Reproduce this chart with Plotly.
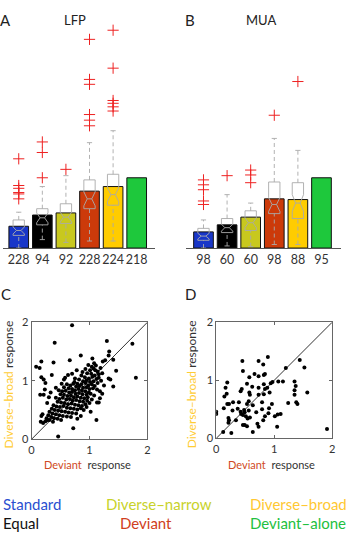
import plotly.graph_objects as go

W, H = 348, 539
def fx(px): return px / W
def fy(py): return 1 - py / H

FONT = "Lato"

# ---------------- data ----------------
categories = ["Standard", "Equal", "Diverse–narrow", "Deviant", "Diverse–broad", "Deviant–alone"]
bar_colors = ["#1836c8", "#000000", "#c8c81e", "#cc3a0a", "#ffcc00", "#1ec83c"]

lfp_mean = [0.31, 0.47, 0.50, 0.81, 0.875, 1.0]
lfp_counts = ["228", "94", "92", "228", "224", "218"]
mua_mean = [0.23, 0.33, 0.44, 0.70, 0.69, 1.0]
mua_counts = ["98", "60", "60", "98", "88", "95"]

# box statistics (first five categories)
lfp_q1 = [0.18, 0.33, 0.35, 0.56, 0.61]
lfp_med = [0.25, 0.43, 0.44, 0.70, 0.76]
lfp_q3 = [0.40, 0.56, 0.63, 0.97, 1.05]
lfp_lo = [0.00, 0.12, 0.08, 0.10, 0.10]
lfp_hi = [0.51, 0.875, 1.03, 1.50, 1.67]
lfp_notch = [0.05, 0.07, 0.07, 0.10, 0.10]
lfp_outliers = [
    [1.27, 0.89, 0.85, 0.79, 0.77, 0.70],
    [1.51, 1.36, 1.00],
    [1.12],
    [2.97, 2.40, 2.33, 1.90, 1.82, 1.74],
    [3.10, 2.56, 2.10, 2.06, 2.01, 1.95],
]

mua_q1 = [0.11, 0.22, 0.25, 0.49, 0.42]
mua_med = [0.17, 0.29, 0.36, 0.62, 0.64]
mua_q3 = [0.28, 0.42, 0.53, 0.94, 0.93]
mua_lo = [0.00, 0.03, 0.02, 0.05, 0.05]
mua_hi = [0.40, 0.76, 0.64, 1.56, 1.39]
mua_notch = [0.04, 0.05, 0.07, 0.10, 0.12]
mua_outliers = [
    [0.97, 0.90, 0.83, 0.67, 0.62],
    [1.03],
    [1.11, 1.04, 0.93],
    [1.89],
    [2.37],
]

# panel C (LFP) : deviant response vs diverse-broad response
c_dev = [0.70, 0.40, 0.17, 0.38, 0.66, 0.08, 0.14, 0.35, 0.17, 0.21, 0.85, 1.30, 1.74, 1.34, 1.33, 1.27, 1.23, 1.41, 1.05, 1.08,
         1.46, 1.33, 1.36, 1.80, 0.46, 0.72, 0.16, 0.17, 0.19, 0.28, 0.21, 0.23, 0.15, 0.24, 0.42, 1.41, 1.18, 1.13, 1.16, 1.02,
         1.12, 0.56, 0.63,
         0.98, 1.04, 1.11, 1.19, 0.93, 1.01, 1.07, 1.14, 0.88, 0.96, 1.03, 1.09, 1.16, 1.22, 0.86, 0.92, 0.99, 1.05, 1.12,
         0.82, 0.89, 0.95, 1.01, 1.07, 1.14, 0.74, 0.79, 0.86, 0.93, 0.98, 1.04, 1.09,
         0.61, 0.67, 0.72, 0.77, 0.83, 0.89, 0.95, 1.00, 1.06, 1.13, 0.56, 0.64, 0.70, 0.75, 0.81, 0.87, 0.93, 0.99,
         0.47, 0.53, 0.59, 0.65, 0.70, 0.76, 0.82, 0.88, 0.95, 1.02, 1.08, 0.50, 0.56, 0.62, 0.68, 0.73, 0.79, 0.85, 0.91, 0.97,
         0.42, 0.48, 0.54, 0.60, 0.66, 0.71, 0.77, 0.83, 0.89, 0.96, 1.04, 0.45, 0.51, 0.57, 0.63, 0.69, 0.75, 0.81, 0.87, 0.93,
         0.38, 0.43, 0.49, 0.55, 0.61, 0.67, 0.73, 0.79, 0.85, 0.35, 0.40, 0.46, 0.52, 0.58, 0.64, 0.70, 0.77,
         0.31, 0.36, 0.42, 0.48, 0.54, 0.61, 0.68, 0.29, 0.34, 0.39, 0.45, 0.51, 0.26, 0.31, 0.37, 0.24, 0.20,
         0.27, 0.30, 0.33, 0.52, 0.58, 0.70, 0.78, 0.75, 1.18, 1.22, 1.25, 1.20, 0.90, 0.95, 1.00, 0.85, 0.79, 1.10, 1.16]
c_broad = [1.95, 1.65, 1.33, 1.31, 1.35, 1.24, 1.22, 1.10, 1.06, 1.02, 1.43, 1.68, 1.63, 1.50, 1.43, 1.35, 1.33, 1.36, 1.38, 1.30,
           1.17, 1.04, 1.02, 1.05, 0.05, 0.19, 0.30, 0.40, 0.43, 0.33, 0.76, 0.85, 0.76, 0.96, 0.88, 0.90, 0.82, 0.63, 0.63, 0.47,
           0.33, 1.02, 1.10,
           1.27, 1.24, 1.26, 1.22, 1.20, 1.18, 1.21, 1.16, 1.15, 1.13, 1.12, 1.09, 1.11, 1.13, 1.09, 1.06, 1.04, 1.07, 1.03,
           1.02, 0.99, 1.01, 0.98, 0.99, 0.96, 0.98, 0.95, 0.94, 0.96, 0.92, 0.94, 0.91,
           0.94, 0.92, 0.95, 0.90, 0.91, 0.88, 0.89, 0.86, 0.87, 0.85, 0.89, 0.87, 0.86, 0.84, 0.86, 0.83, 0.82, 0.80,
           0.84, 0.82, 0.83, 0.80, 0.81, 0.78, 0.79, 0.77, 0.76, 0.78, 0.75, 0.77, 0.76, 0.74, 0.75, 0.72, 0.73, 0.71, 0.70, 0.72,
           0.71, 0.69, 0.71, 0.68, 0.69, 0.66, 0.67, 0.65, 0.64, 0.66, 0.68, 0.64, 0.63, 0.62, 0.60, 0.61, 0.59, 0.58, 0.57, 0.60,
           0.58, 0.56, 0.55, 0.57, 0.54, 0.53, 0.52, 0.51, 0.53, 0.52, 0.50, 0.49, 0.48, 0.47, 0.46, 0.45, 0.44,
           0.47, 0.44, 0.43, 0.41, 0.40, 0.39, 0.38, 0.41, 0.38, 0.36, 0.35, 0.33, 0.36, 0.33, 0.30, 0.31, 0.28,
           0.62, 0.72, 0.80, 0.95, 1.05, 1.12, 1.18, 1.04, 0.70, 0.78, 0.92, 1.00, 0.50, 0.55, 0.62, 0.40, 0.35, 1.18, 1.05]
c_clip_dev = [0.92, 1.90, 2.07, 2.07]
c_clip_broad = [2.07, 2.07, 2.07, 1.43]

# panel D (MUA)
d_dev = [0.45, 0.73, 0.89, 0.81, 0.46, 1.44, 1.52, 1.20, 0.57, 0.66, 0.73, 0.82, 0.84, 0.19, 0.16, 0.53, 0.62, 0.73, 0.82, 0.88,
         0.94, 0.97, 1.07, 1.15, 1.35, 1.37, 0.92, 0.84, 0.82, 0.73, 0.57, 0.58, 0.42, 0.44, 0.18, 0.14, 1.35, 1.35, 1.57, 0.39,
         0.56, 0.53, 0.63, 0.79, 0.96, 1.24, 1.38, 1.40, 0.22, 0.19, 0.13, 0.29, 0.37, 0.28, 0.42, 0.48, 0.49, 0.46, 0.43, 0.56,
         0.69, 0.79, 0.91, 0.90, 1.06, 1.11, 0.00, 0.00, 0.21, 0.22, 0.21, 0.34, 0.51, 0.54, 0.58, 0.46, 0.49, 0.53, 0.71, 0.73,
         0.84, 0.81, 1.01, 1.05, 0.26, 0.12, 0.63, 1.91]
d_broad = [1.33, 1.33, 1.40, 1.27, 1.16, 1.35, 1.22, 1.21, 1.05, 1.11, 1.07, 1.09, 1.11, 0.96, 0.87, 0.94, 0.89, 0.87, 0.93, 0.87,
           0.95, 0.97, 0.98, 0.98, 0.98, 0.90, 0.79, 0.85, 0.76, 0.75, 0.79, 0.75, 0.81, 0.85, 0.77, 0.72, 0.83, 0.75, 0.79, 0.62,
           0.64, 0.59, 0.57, 0.62, 0.59, 0.61, 0.62, 0.59, 0.59, 0.59, 0.52, 0.62, 0.51, 0.48, 0.46, 0.49, 0.45, 0.40, 0.42, 0.48,
           0.45, 0.50, 0.52, 0.43, 0.41, 0.42, 0.46, 0.42, 0.35, 0.31, 0.27, 0.31, 0.38, 0.34, 0.36, 0.23, 0.23, 0.21, 0.25, 0.20,
           0.38, 0.31, 0.38, 0.20, 0.09, 0.11, 0.11, 0.16]
d_clip_dev = [1.90]
d_clip_broad = [2.07]

identity = [0, 2]

# ---------------- figure ----------------
fig = go.Figure()
BOXLINE = "rgba(170,170,170,0.9)"
CAP = 0.11  # half cap width in category units (style)

def add_bar_panel(means, q1, med, q3, lo, hi, notch, outliers, xa, ya):
    idx = list(range(len(means)))
    fig.add_trace(go.Bar(x=idx, y=means, width=0.833,
                         marker=dict(color=bar_colors, line=dict(color="#111", width=1)),
                         xaxis=xa, yaxis=ya, showlegend=False, hoverinfo="skip"))
    # dashed whiskers
    wx, wy, cx, cy = [], [], [], []
    for i in range(len(q1)):
        wx += [i, i, None, i, i, None]
        wy += [q3[i], hi[i], None, lo[i], q1[i], None]
        cx += [i - CAP, i + CAP, None, i - CAP, i + CAP, None]
        cy += [hi[i], hi[i], None, lo[i], lo[i], None]
    fig.add_trace(go.Scatter(x=wx, y=wy, mode="lines", line=dict(color=BOXLINE, width=1, dash="4px,3px"),
                             xaxis=xa, yaxis=ya, showlegend=False, hoverinfo="skip"))
    fig.add_trace(go.Scatter(x=cx, y=cy, mode="lines", line=dict(color=BOXLINE, width=1),
                             xaxis=xa, yaxis=ya, showlegend=False, hoverinfo="skip"))
    fig.add_trace(go.Box(x=idx[:5], q1=q1, median=med, q3=q3, lowerfence=q1, upperfence=q3,
                         notched=True, notchspan=notch, notchwidth=0.3,
                         width=0.48, whiskerwidth=0,
                         line=dict(color=BOXLINE, width=1),
                         fillcolor="rgba(0,0,0,0)", boxpoints=False,
                         xaxis=xa, yaxis=ya, showlegend=False, hoverinfo="skip"))
    ox, oy = [], []
    for i, vals in enumerate(outliers):
        for v in vals:
            ox.append(i)
            oy.append(v)
    fig.add_trace(go.Scatter(x=ox, y=oy, mode="markers",
                             marker=dict(symbol="cross-thin", size=8, line=dict(color="#ee2222", width=1)),
                             xaxis=xa, yaxis=ya, showlegend=False, hoverinfo="skip", cliponaxis=False))

add_bar_panel(lfp_mean, lfp_q1, lfp_med, lfp_q3, lfp_lo, lfp_hi, lfp_notch, lfp_outliers, "x", "y")
add_bar_panel(mua_mean, mua_q1, mua_med, mua_q3, mua_lo, mua_hi, mua_notch, mua_outliers, "x2", "y2")

def add_scatter_panel(xs, ys, cx, cy, xa, ya):
    fig.add_trace(go.Scatter(x=identity, y=identity, mode="lines",
                             line=dict(color="#333", width=1),
                             xaxis=xa, yaxis=ya, showlegend=False, hoverinfo="skip"))
    fig.add_trace(go.Scatter(x=xs, y=ys, mode="markers",
                             marker=dict(color="#000", size=4),
                             xaxis=xa, yaxis=ya, showlegend=False, hoverinfo="skip"))
    fig.add_trace(go.Scatter(x=cx, y=cy, mode="markers",
                             marker=dict(symbol="cross-thin", size=10, line=dict(color="#333", width=1)),
                             xaxis=xa, yaxis=ya, showlegend=False, hoverinfo="skip", cliponaxis=False))

add_scatter_panel(c_dev, c_broad, c_clip_dev, c_clip_broad, "x3", "y3")
add_scatter_panel(d_dev, d_broad, d_clip_dev, d_clip_broad, "x4", "y4")

bar_x_common = dict(showgrid=False, zeroline=False, showline=True, linecolor="#555", linewidth=1,
                    ticks="", tickmode="array", tickvals=list(range(6)), tickangle=0,
                    tickfont=dict(family=FONT, size=12.5, color="#333"), fixedrange=True)
bar_y_common = dict(visible=False, range=[0, 227 / 72], fixedrange=True)

sc_common = dict(range=[0, 2], showgrid=False, zeroline=False, showline=True, mirror="ticks",
                 linecolor="#666", linewidth=1, ticks="inside", ticklen=3, tickcolor="#666",
                 tickvals=[0, 1, 2], tickfont=dict(family=FONT, size=11, color="#333"), fixedrange=True)

fig.update_layout(
    width=W, height=H, margin=dict(l=0, r=0, t=0, b=0),
    paper_bgcolor="white", plot_bgcolor="white",
    barmode="overlay", boxmode="overlay",
    font=dict(family=FONT, color="#222"),
    xaxis=dict(domain=[fx(0), fx(155)], range=[-0.667, 5.79], ticktext=lfp_counts, **bar_x_common),
    yaxis=dict(domain=[fy(247), fy(20)], anchor="x", **bar_y_common),
    xaxis2=dict(domain=[fx(186), fx(344)], range=[-0.75, 5.83], ticktext=mua_counts, anchor="y2", **bar_x_common),
    yaxis2=dict(domain=[fy(247), fy(20)], anchor="x2", **bar_y_common),
    xaxis3=dict(domain=[fx(29), fx(147)], anchor="y3", **sc_common),
    yaxis3=dict(domain=[fy(443), fy(323)], anchor="x3", **sc_common),
    xaxis4=dict(domain=[fx(217), fx(335)], anchor="y4", **sc_common),
    yaxis4=dict(domain=[fy(442), fy(323)], anchor="x4", **sc_common),
)

def ann(text, px, py, size, color="#222", xanchor="center", angle=0):
    fig.add_annotation(text=text, x=fx(px), y=fy(py), xref="paper", yref="paper",
                       showarrow=False, xanchor=xanchor, yanchor="middle", textangle=angle,
                       font=dict(family=FONT, size=size, color=color))

ann("A", 3, 13, 15)
ann("LFP", 73, 13, 13)
ann("B", 190, 13, 15)
ann("MUA", 263, 13, 13)
ann("C", 3, 294, 15)
ann("D", 191, 294, 15)

GOLD = "#ffcc33"
DEVRED = "#d04a24"
ylab = f"<span style='color:{GOLD}'>Diverse–broad</span> <span style='color:#333'>response</span>"
xlab = f"<span style='color:{DEVRED}'>Deviant</span>  <span style='color:#333'>response</span>"
ann(ylab, 6, 387, 12, angle=-90)
ann(ylab, 192, 387, 12, angle=-90)
ann(xlab, 86, 469, 11)
ann(xlab, 273, 469, 11)

ann("Standard", -2, 509, 15, "#2a4fd0", "left")
ann("Diverse–narrow", 103, 509, 15, "#c8d22a", "left")
ann("Diverse–broad", 249, 509, 15, "#ffc832", "left")
ann("Equal", -2, 529, 15, "#111111", "left")
ann("Deviant", 117, 529, 15, "#d04020", "left")
ann("Deviant–alone", 249, 529, 15, "#22c040", "left")

fig.write_html("out.html")
